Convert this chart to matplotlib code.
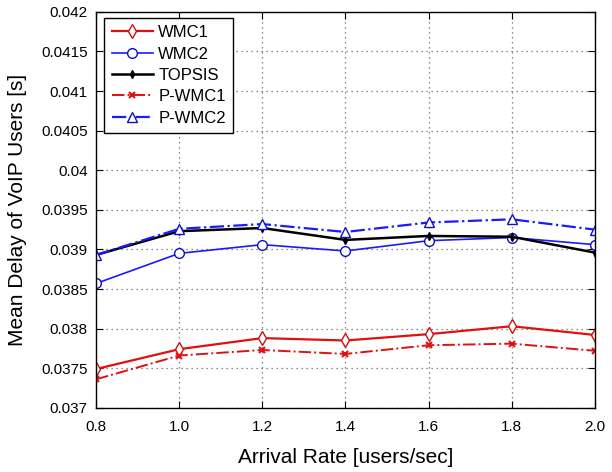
import numpy as np
import matplotlib
matplotlib.use("Agg")
import matplotlib.pyplot as plt

plt.rcParams["font.family"] = ["Liberation Sans", "DejaVu Sans"]

# ---------------------------
# Data
# ---------------------------
arrival_rate = [0.8, 1.0, 1.2, 1.4, 1.6, 1.8, 2.0]
wmc1 = [0.03749, 0.03774, 0.03788, 0.03785, 0.03793, 0.03803, 0.03792]
wmc2 = [0.03857, 0.03895, 0.03906, 0.03898, 0.03911, 0.03915, 0.03906]
topsis = [0.03893, 0.03923, 0.03927, 0.03912, 0.03917, 0.03916, 0.03896]
p_wmc1 = [0.03736, 0.03766, 0.03773, 0.03768, 0.03779, 0.03781, 0.03772]
p_wmc2 = [0.03893, 0.03926, 0.03932, 0.03922, 0.03934, 0.03938, 0.03925]

x_ticks = [0.8, 1.0, 1.2, 1.4, 1.6, 1.8, 2.0]
x_ticklabels = ["0.8", "1.0", "1.2", "1.4", "1.6", "1.8", "2.0"]
y_ticks = [0.037, 0.0375, 0.038, 0.0385, 0.039, 0.0395, 0.04,
           0.0405, 0.041, 0.0415, 0.042]
y_ticklabels = ["0.037", "0.0375", "0.038", "0.0385", "0.039", "0.0395",
                "0.04", "0.0405", "0.041", "0.0415", "0.042"]

# ---------------------------
# Plot
# ---------------------------
fig = plt.figure(figsize=(6.12, 4.72), dpi=100)
ax = fig.add_axes([0.157, 0.136, 0.815, 0.839])

ax.plot(arrival_rate, wmc1, "-", color="#e01010", marker="d", mfc="white",
        mec="#d01010", ms=7, lw=1.6, label="WMC1")
ax.plot(arrival_rate, wmc2, "-", color="#1a1aff", marker="o", mfc="white",
        mec="#1010c0", ms=7, lw=1.2, label="WMC2")
ax.plot(arrival_rate, topsis, "-", color="black", marker="d", mfc="black",
        ms=4, lw=1.8, label="TOPSIS")
ax.plot(arrival_rate, p_wmc1, "-.", color="#e01010", marker="x", mec="#e01010",
        ms=5, mew=1.5, lw=1.4, label="P-WMC1")
ax.plot(arrival_rate, p_wmc2, "-.", color="#1a1aff", marker="^", mfc="white",
        mec="#1010c0", ms=7, lw=1.6, label="P-WMC2")

ax.set_xlim(0.8, 2.0)
ax.set_ylim(0.037, 0.042)
ax.set_xticks(x_ticks)
ax.set_xticklabels(x_ticklabels)
ax.set_yticks(y_ticks)
ax.set_yticklabels(y_ticklabels)
ax.tick_params(direction="in", top=True, right=True, labelsize=11, length=5)
ax.tick_params(axis="x", pad=9)
ax.tick_params(axis="y", pad=6)
ax.grid(True, linestyle=(0, (1, 3)), color="#666666", linewidth=0.9)

for spine in ax.spines.values():
    spine.set_linewidth(1.0)

ax.set_xlabel("Arrival Rate [users/sec]", fontsize=15, labelpad=10)
ax.set_ylabel("Mean Delay of VoIP Users [s]", fontsize=15, labelpad=10)

leg = ax.legend(loc="upper left", fontsize=12, fancybox=False, framealpha=1,
                edgecolor="black", handlelength=2.5, borderpad=0.45,
                labelspacing=0.38, handletextpad=0.3, borderaxespad=0,
                bbox_to_anchor=(0.016, 0.985))
leg.get_frame().set_linewidth(1.0)

plt.savefig("out.png", dpi=100)
plt.close()
